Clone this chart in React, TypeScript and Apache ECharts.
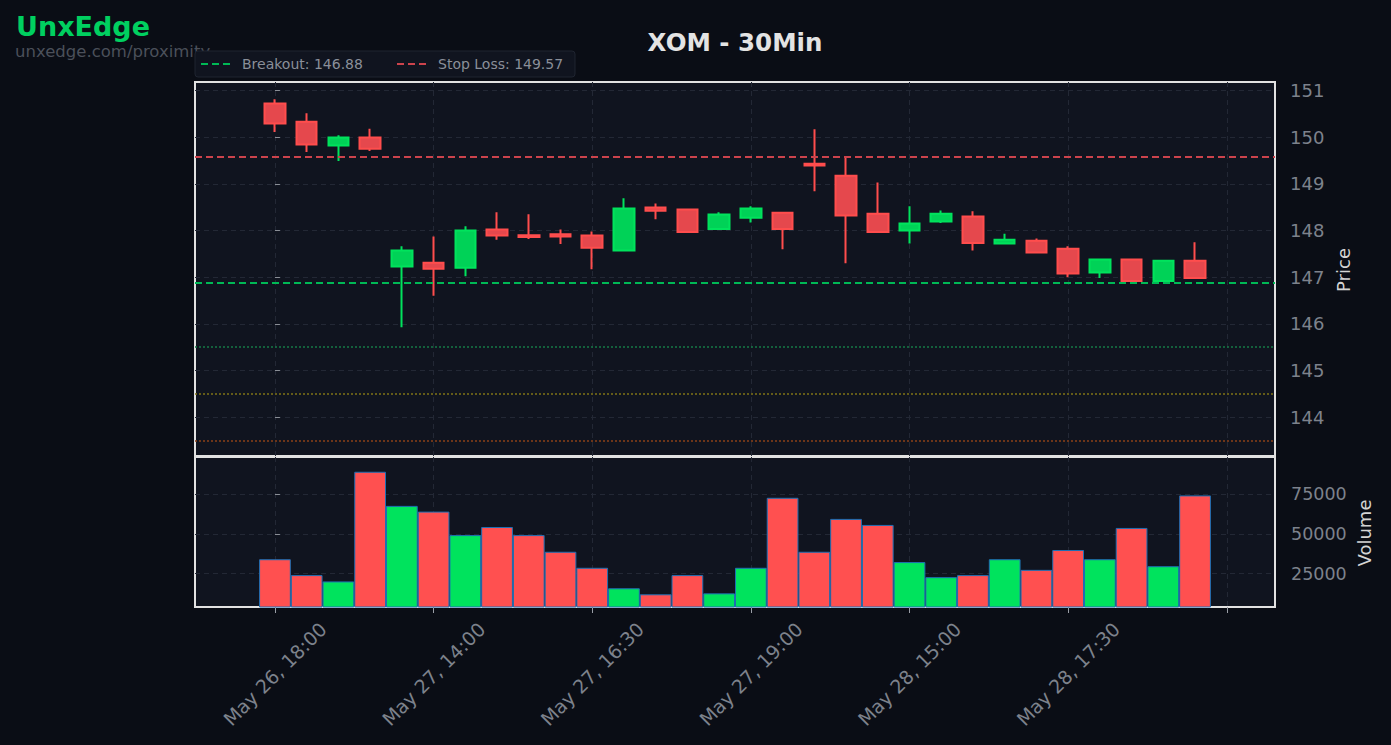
import React, { useEffect, useRef } from 'react';
import * as echarts from 'echarts';

// ---- data ----
const opens = [150.72, 150.33, 149.82, 149.99, 147.23, 147.31, 147.2, 148.02, 147.9, 147.92, 147.89, 147.57, 148.49, 148.45, 148.03, 148.27, 148.38, 149.43, 149.17, 148.36, 148.0, 148.19, 148.3, 147.72, 147.78, 147.61, 147.1, 147.38, 146.92, 147.35];
const closes = [150.29, 149.84, 149.99, 149.75, 147.57, 147.18, 148.0, 147.89, 147.86, 147.87, 147.63, 148.47, 148.42, 147.97, 148.34, 148.47, 148.03, 149.39, 148.32, 147.97, 148.15, 148.36, 147.73, 147.8, 147.53, 147.08, 147.38, 146.92, 147.35, 146.98];
const lows = [150.11, 149.68, 149.49, 149.7, 145.93, 146.6, 147.02, 147.8, 147.82, 147.71, 147.17, 147.57, 148.24, 147.95, 148.03, 148.17, 147.6, 148.84, 147.3, 147.97, 147.72, 148.16, 147.57, 147.72, 147.53, 147.0, 146.98, 146.92, 146.9, 146.98];
const highs = [150.81, 150.51, 150.04, 150.18, 147.66, 147.87, 148.09, 148.39, 148.35, 148.02, 147.98, 148.69, 148.58, 148.45, 148.39, 148.52, 148.38, 150.17, 149.56, 149.03, 148.52, 148.43, 148.41, 147.93, 147.83, 147.66, 147.4, 147.38, 147.35, 147.75];
const volumes = [34000, 24000, 20000, 89100, 67600, 64000, 49200, 54300, 49200, 38700, 28600, 15700, 11900, 24000, 12500, 28600, 72700, 38700, 59400, 55600, 32200, 22700, 24000, 34000, 27300, 39800, 34000, 53700, 29600, 74200];

const tickPositions = [0, 5, 10, 15, 20, 25, 30];
const tickLabels = ['May 26, 18:00', 'May 27, 14:00', 'May 27, 16:30', 'May 27, 19:00', 'May 28, 15:00', 'May 28, 17:30'];
const priceTicks = [144, 145, 146, 147, 148, 149, 150, 151];
const volumeTicks = [25000, 50000, 75000];

const breakout = 146.88;
const stopLoss = 149.57;
const targetLevels = [145.5, 144.5, 143.5];

const title = 'XOM - 30Min';

// ---- style ----
const FONT = 'DejaVu Sans';
const UP = '#00d257';
const UP_EDGE = '#00e35d';
const DOWN = '#e5484d';
const DOWN_EDGE = '#ff4d4d';
const VOL_UP = '#00e35d';
const VOL_DOWN = '#ff5050';
const TICK_COLOR = '#7d828c';
const GRID_LINE = '#232835';
const PLOT_BG = '#10141f';
const FRAME = '#e2e2e2';
const targetColors = ['#167a47', '#7f7317', '#8a4019'];

const X_MIN = -2.52;
const X_MAX = 31.52;

export default function App() {
  const ref = useRef<HTMLDivElement>(null);

  useEffect(() => {
    if (!ref.current) return;
    const chart = echarts.init(ref.current, undefined, { renderer: 'svg' });

    const candleData = opens.map((o, i) => [i, o, closes[i], lows[i], highs[i]]);
    const volData = volumes.map((v, i) => ({
      value: [i, v],
      itemStyle: { color: closes[i] >= opens[i] ? VOL_UP : VOL_DOWN },
    }));

    const splitLine = { show: true, lineStyle: { color: GRID_LINE, type: [5, 4], width: 1 } };

    const option: any = {
      animation: false,
      backgroundColor: '#0a0d15',
      textStyle: { fontFamily: FONT },
      grid: [
        { left: 195, width: 1080, top: 82, height: 374, show: true, backgroundColor: PLOT_BG, borderColor: FRAME, borderWidth: 2 },
        { left: 195, width: 1080, top: 457, height: 150, show: true, backgroundColor: PLOT_BG, borderColor: FRAME, borderWidth: 2 },
      ],
      xAxis: [
        {
          type: 'value', gridIndex: 0, min: X_MIN, max: X_MAX,
          axisLine: { show: false },
          axisTick: { show: false, customValues: tickPositions },
          axisLabel: { show: false, customValues: tickPositions },
          splitLine,
        },
        {
          type: 'value', gridIndex: 1, min: X_MIN, max: X_MAX,
          axisLine: { show: false },
          axisTick: { show: true, length: 6, lineStyle: { color: '#9a9ea6', width: 1 }, customValues: tickPositions },
          axisLabel: {
            show: true,
            customValues: tickPositions.slice(0, tickLabels.length),
            formatter: (v: number) => {
              const k = tickPositions.indexOf(Math.round(v));
              return k >= 0 && k < tickLabels.length ? tickLabels[k] : '';
            },
            rotate: 45,
            align: 'center',
            verticalAlign: 'middle',
            margin: 67,
            color: TICK_COLOR,
            fontSize: 19,
            fontFamily: FONT,
          },
          splitLine,
        },
      ],
      yAxis: [
        {
          type: 'value', gridIndex: 0, position: 'right', min: 143.17, max: 151.18,
          axisLine: { show: false },
          axisTick: { show: true, length: 5, lineStyle: { color: '#8a8e96' }, customValues: priceTicks },
          axisLabel: { show: true, customValues: priceTicks, margin: 15, color: TICK_COLOR, fontSize: 18, fontFamily: FONT, formatter: (v: number) => String(v) },
          splitLine,
        },
        {
          type: 'value', gridIndex: 1, position: 'right', min: 3900, max: 98400,
          axisLine: { show: false },
          axisTick: { show: true, length: 5, lineStyle: { color: '#8a8e96' }, customValues: volumeTicks },
          axisLabel: { show: true, customValues: volumeTicks, margin: 16, color: TICK_COLOR, fontSize: 17.5, fontFamily: FONT, formatter: (v: number) => String(v) },
          splitLine,
        },
      ],
      series: [
        {
          type: 'candlestick',
          xAxisIndex: 0,
          yAxisIndex: 0,
          data: candleData,
          barWidth: 21,
          itemStyle: { color: UP, color0: DOWN, borderColor: UP_EDGE, borderColor0: DOWN_EDGE, borderWidth: 2 },
          markLine: {
            silent: true,
            symbol: ['none', 'none'],
            label: { show: false },
            data: [
              { yAxis: stopLoss, lineStyle: { color: '#cc434c', type: [7, 4], width: 2 } },
              { yAxis: breakout, lineStyle: { color: '#00b955', type: [7, 4], width: 2 } },
              ...targetLevels.map((lv, k) => ({ yAxis: lv, lineStyle: { color: targetColors[k], type: [2, 2], width: 1.5 } })),
            ],
          },
          z: 3,
        },
        {
          type: 'bar',
          xAxisIndex: 1,
          yAxisIndex: 1,
          data: volData,
          barWidth: 31.73,
          itemStyle: { borderColor: '#1f6fb4', borderWidth: 1 },
        },
      ],
      graphic: [
        { type: 'text', left: 16, top: 13, style: { text: 'UnxEdge', font: `bold 27px "${FONT}"`, lineHeight: 24, fill: '#00d060' } },
        { type: 'text', left: 15, top: 42.5, style: { text: 'unxedge.com/proximity', font: `16.5px "${FONT}"`, lineHeight: 16, fill: '#4b505a' } },
        { type: 'text', x: 735, y: 42, style: { text: title, font: `bold 24.5px "${FONT}"`, fill: '#e3e3e3', align: 'center', verticalAlign: 'middle' } },
        { type: 'rect', shape: { x: 195, y: 51, width: 380, height: 26, r: 3 }, style: { fill: '#10141f', stroke: '#1f2430', lineWidth: 1 } },
        { type: 'line', shape: { x1: 201, y1: 64, x2: 231, y2: 64 }, style: { stroke: '#00b955', lineWidth: 2, lineDash: [7, 4] } },
        { type: 'text', x: 242, y: 64, style: { text: `Breakout: ${breakout.toFixed(2)}`, font: `14px "${FONT}"`, fill: '#8a8f99', verticalAlign: 'middle' } },
        { type: 'line', shape: { x1: 397, y1: 64, x2: 427, y2: 64 }, style: { stroke: '#cc434c', lineWidth: 2, lineDash: [7, 4] } },
        { type: 'text', x: 438, y: 64, style: { text: `Stop Loss: ${stopLoss.toFixed(2)}`, font: `14px "${FONT}"`, fill: '#8a8f99', verticalAlign: 'middle' } },
        { type: 'text', x: 1343, y: 270, rotation: Math.PI / 2, style: { text: 'Price', font: `18px "${FONT}"`, fill: '#d4d4d4', align: 'center', verticalAlign: 'middle' } },
        { type: 'text', x: 1364, y: 533, rotation: Math.PI / 2, style: { text: 'Volume', font: `18px "${FONT}"`, fill: '#d4d4d4', align: 'center', verticalAlign: 'middle' } },
      ],
    };

    chart.setOption(option);
    return () => chart.dispose();
  }, []);

  return <div ref={ref} style={{ width: 1391, height: 745, position: 'absolute', left: 0, top: 0 }} />;
}
